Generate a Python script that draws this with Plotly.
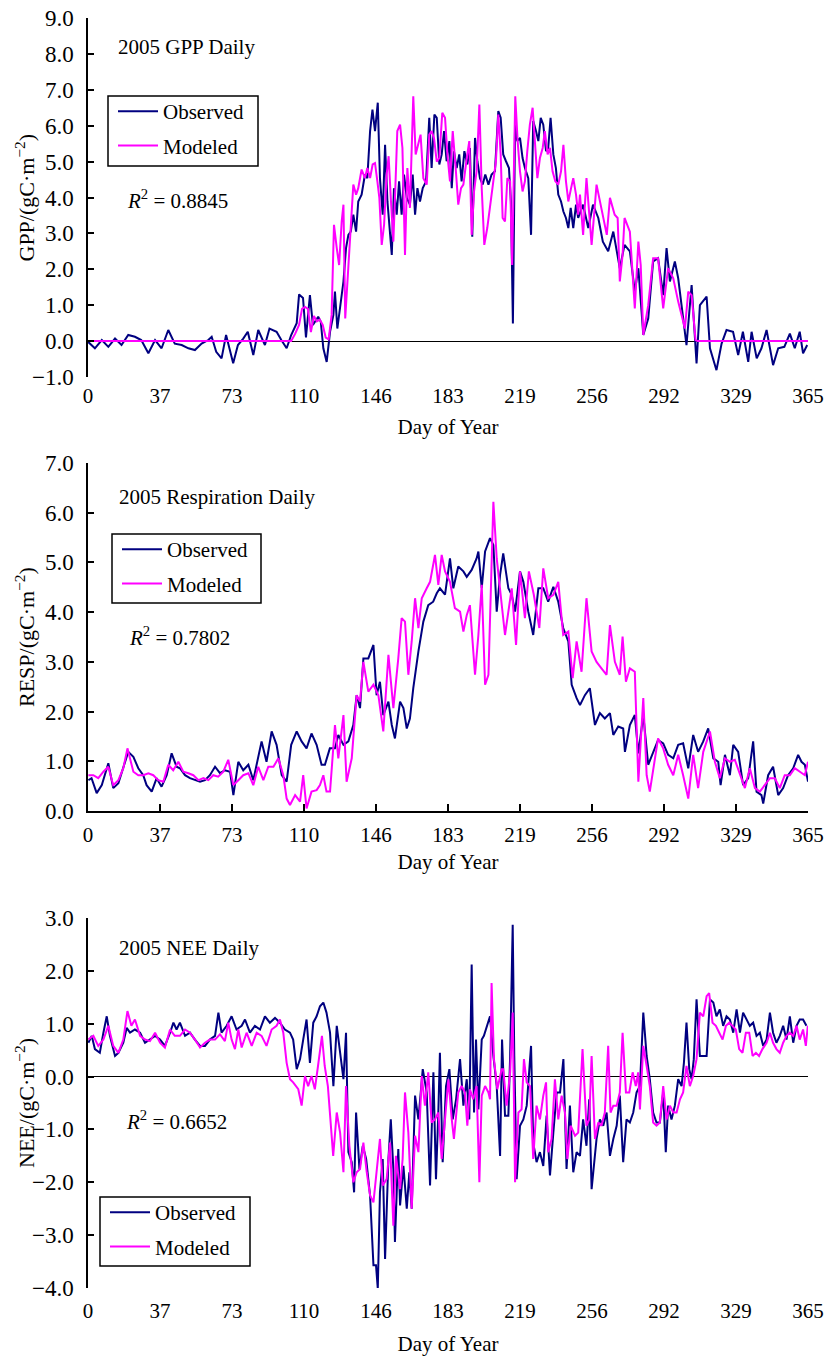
import plotly.graph_objects as go

# ---------------- data (day of year, value) ----------------
TICK_POS = [0, 36.5, 73, 109.5, 146, 182.5, 219, 255.5, 292, 328.5, 365]
TICK_TEXT = ["0", "37", "73", "110", "146", "183", "219", "256", "292", "329", "365"]

GPP_OBS = [(0,-0.02),(3.5,-0.2),(7,0.03),(10.3,-0.16),(13.7,0.07),(17,-0.11),(20.4,0.17),(23.8,0.12),(27,0.03),(30.6,-0.34),(34,0.03),(37.3,-0.2),(40.7,0.31),(44,-0.07),(47.5,-0.11),(50.9,-0.2),(54.2,-0.25),(57.6,-0.07),(61,0.03),(62.7,0.12),(65,-0.3),(67.7,-0.48),(70,0.17),(73.6,-0.62),(76,-0.11),(78.7,0.07),(81,0.26),(83.8,-0.39),(86.3,0.31),(89.7,-0.11),(92,0.35),(95.6,0.26),(98,0.03),(100.7,-0.2),(103,0.17),(105.8,0.5),(107,1.3),(109,1.2),(110.5,0.1),(112.5,1.28),(114,0.45),(116.7,0.68),(118,0.54),(119.3,-0.2),(121,-0.58),(122.7,0.26),(124.4,0.73),(125.2,1.38),(126.4,0.35),(128.1,1.01),(129.5,1.66),(130.8,2.59),(132,2.96),(133.2,3.05),(134.5,3.52),(135.9,3.05),(137,3.89),(138.7,4.08),(140.4,4.64),(141.6,4.54),(143,5.85),(144.2,6.45),(145.5,5.85),(146.9,6.64),(148,4.54),(149.4,3.52),(150.6,5.47),(151.8,3.89),(153.1,3.05),(154,2.4),(155.1,4.26),(156.5,3.52),(157.7,4.45),(159,3.52),(160.2,4.64),(161.6,3.99),(163.2,3.8),(164.6,4.64),(165.8,3.52),(167,4.26),(168.3,3.89),(169.7,4.26),(171.4,4.45),(173,6.22),(174.2,4.82),(175.6,6.31),(176.8,6.22),(178.1,4.92),(179.3,5.2),(180.5,5.85),(181.8,5.01),(183.2,5.57),(184.4,4.26),(185.5,5.29),(186.9,4.82),(188.2,5.2),(189.4,4.45),(190.8,5.29),(192.3,4.92),(193.6,5.38),(194.8,2.91),(196.2,5.66),(197.4,5.01),(198.7,4.54),(200.1,4.36),(201.4,4.64),(203,4.36),(204.6,4.64),(206.3,4.73),(208,6.41),(209.2,6.22),(210.5,5.2),(211.9,5.01),(213.4,4.82),(214.4,3.89),(215.4,0.49),(216.5,6.03),(217.6,5.57),(219,5.66),(220.3,5.1),(221.5,4.82),(223.2,4.54),(224.6,2.96),(225.7,6.13),(227.1,5.85),(228.3,5.57),(229.5,6.22),(230.8,6.03),(232.2,5.29),(233.3,5.38),(234.5,6.22),(235.9,5.2),(237.2,4.82),(238.4,4.08),(239.8,3.89),(241,3.61),(242.3,3.43),(243.5,3.15),(244.7,3.71),(246,3.15),(247.4,3.8),(248.5,3.43),(251,3.8),(253.6,3.15),(256,3.8),(258.7,3.43),(261,2.77),(263.7,2.5),(266.3,3.05),(269.6,2.03),(272,2.68),(274.7,2.5),(277.2,1.38),(279,2.03),(281.5,0.17),(284,0.63),(286.5,2.22),(289,2.31),(291.6,1.28),(293.3,2.59),(295,1.66),(297.5,2.22),(299.2,1.75),(301,0.91),(303.4,-0.11),(306,1.56),(308.5,-0.62),(310.2,1.0),(313.6,1.24),(315.3,-0.2),(318.6,-0.81),(321.2,-0.07),(323.7,0.31),(327,0.26),(329.6,-0.39),(332,0.26),(334.7,-0.58),(336.4,0.26),(339,-0.48),(341.4,-0.2),(344,0.31),(347.3,-0.67),(349.9,-0.2),(353,-0.16),(355.8,0.21),(358.3,-0.2),(360.8,0.26),(362.5,-0.34),(364.6,-0.11)]

GPP_MOD = [(0,0),(50,0),(103,0),(105,0.2),(107,0.45),(108.5,0.9),(110,0.95),(111.5,0.9),(113,0.25),(114.5,0.7),(116,0.55),(117.5,0.6),(119,0.45),(120.5,0.1),(122,0.05),(123.5,0.73),(124.7,3.24),(126.1,2.59),(127.3,2.12),(128.6,3.33),(129.5,3.8),(130.4,0.63),(131.5,1.66),(132.8,2.59),(134.5,4.36),(135.9,4.08),(137,4.26),(138.7,4.78),(140.4,4.54),(141.6,4.82),(143,4.54),(144.3,4.92),(145.5,4.96),(146.7,4.45),(147.7,3.99),(148.9,2.68),(150.1,3.24),(151.4,4.64),(152.4,5.15),(153.6,3.89),(154.8,2.77),(155.8,4.26),(156.8,5.85),(158.2,6.03),(159.4,5.38),(160.7,2.4),(161.9,4.82),(163.2,3.71),(164.9,6.82),(166.1,5.2),(167.5,5.47),(168.6,5.75),(170,4.54),(171.7,4.36),(173,5.75),(174.2,5.85),(175.4,5.66),(176.8,5.0),(178.1,5.1),(179.6,6.36),(181,6.22),(182.2,5.2),(183.5,4.45),(184.9,5.85),(186.4,4.82),(187.7,3.8),(189.1,4.26),(190.3,4.36),(192,5.1),(193.3,5.57),(194.5,2.96),(195.7,4.17),(197,4.73),(198.4,6.59),(199.6,4.26),(200.9,2.68),(202.4,3.15),(203.8,3.71),(205.5,4.45),(206.8,5.01),(208,6.31),(209.2,5.2),(210.2,3.43),(211.4,3.33),(212.6,4.54),(214,4.45),(215,2.12),(216,5.0),(216.6,6.82),(217.8,5.57),(219,4.73),(220.3,4.17),(221.5,4.45),(222.7,5.29),(224,6.03),(225.4,6.5),(226.6,5.57),(227.8,4.54),(229.1,5.1),(230.5,5.38),(231.6,5.85),(233,5.2),(234.2,5.38),(235.5,4.73),(236.9,4.45),(238.4,4.36),(239.8,4.73),(241,5.47),(242.3,4.45),(243.5,3.89),(244.9,4.26),(246,4.54),(247.4,4.08),(248.5,3.52),(249.4,4.08),(251,2.96),(252.7,4.54),(255.3,2.68),(257.8,4.36),(260,3.8),(263,2.96),(264.6,3.99),(267,3.52),(268.5,3.43),(269.6,1.66),(271,2.4),(272,3.43),(274.7,3.05),(277.2,0.91),(279,2.77),(280.2,2.12),(281.5,0.17),(284,1.0),(286.5,2.31),(289,2.31),(291.6,0.91),(294.1,2.03),(296.7,1.75),(299.2,1.1),(302.6,0.35),(304.3,1.38),(306,1.28),(308,0.03),(309,0),(340,0),(365,0)]

RESP_OBS = [(0.2,0.62),(1.8,0.66),(4.4,0.36),(7,0.52),(10.3,0.96),(12.8,0.46),(15.4,0.56),(17.9,0.86),(20.4,1.19),(23,1.09),(25.5,0.86),(28,0.72),(29.7,0.52),(32.3,0.39),(34.8,0.66),(37.3,0.49),(39.9,0.72),(42.4,1.16),(44.9,0.89),(46.6,0.86),(49.2,0.72),(51.7,0.66),(54.2,0.62),(56.8,0.59),(59.3,0.62),(61.8,0.72),(64.4,0.89),(66.9,0.76),(69.4,0.82),(72,0.79),(73.7,0.32),(76.2,0.99),(78.7,0.82),(81.3,0.93),(83.8,0.62),(86.3,1.13),(88,1.4),(90.5,0.99),(93.1,1.6),(95.6,1.33),(98.2,0.72),(100.7,0.59),(103,1.33),(105.8,1.6),(108.3,1.4),(110.8,1.26),(113.3,1.56),(115.9,1.33),(118.4,0.93),(120.1,0.93),(122.6,1.26),(125.2,1.26),(126.9,1.53),(129.5,1.33),(132,1.4),(134.5,1.73),(136.2,2.33),(137.9,2.07),(139.6,3.07),(142.1,3.07),(144.7,3.34),(146.3,2.33),(148,2.6),(149.7,1.93),(152.3,2.2),(154,1.73),(155.6,1.46),(158.2,2.2),(159.9,2.07),(161.6,1.66),(163.2,1.86),(164.9,2.47),(167.5,3.21),(170,3.81),(172.5,4.14),(175,4.21),(176.8,4.38),(178.4,4.48),(181,4.35),(183.5,5.08),(185.2,4.48),(187.7,4.92),(190.3,4.82),(192,4.71),(194.5,4.85),(197,5.08),(197.9,5.22),(199.6,4.48),(201.3,5.22),(203.8,5.49),(205.5,5.35),(207.2,4.01),(208.9,4.75),(210.5,5.18),(213.1,4.48),(214.8,4.35),(216.5,4.01),(219,4.82),(220.7,4.61),(223.2,4.01),(225.7,3.54),(228.3,4.48),(230.8,4.48),(233.3,4.21),(235.9,4.51),(238.4,4.21),(240.9,3.68),(243.5,3.41),(245.2,2.54),(247.7,2.27),(249.4,2.13),(251.9,2.33),(254.4,2.47),(257,1.73),(259.5,1.97),(262,1.86),(264.6,1.97),(266.3,1.53),(268.8,1.7),(271.3,1.66),(272.2,1.19),(274.7,1.73),(277.2,1.93),(279,1.16),(281.5,1.93),(284,0.93),(286.5,1.19),(289,1.43),(291.6,1.36),(294.1,1.13),(296.7,1.06),(299.2,1.33),(301.7,1.36),(304.3,0.86),(306.8,1.53),(309.3,1.19),(311.9,1.4),(314.4,1.66),(317,1.06),(319.5,0.99),(320.7,0.52),(322.9,1.13),(325.4,0.72),(327.1,1.33),(329.6,1.19),(332.1,0.52),(334.7,0.66),(337.2,1.4),(338.9,0.39),(341.4,0.32),(342.3,0.15),(344.8,0.72),(347.3,0.89),(349.9,0.32),(352.4,0.46),(354.9,0.72),(357.5,0.86),(360,1.13),(361.7,0.99),(363.4,0.93),(365,0.59)]

RESP_MOD = [(0.2,0.72),(2.7,0.72),(5.2,0.66),(7.8,0.79),(10.3,0.89),(12.8,0.52),(15.4,0.62),(17.9,0.86),(20,1.26),(23,0.79),(25.5,0.72),(28,0.72),(30.6,0.76),(33.1,0.72),(35.6,0.62),(38.2,0.59),(40.7,0.93),(43.2,0.82),(45.8,0.99),(48.3,0.79),(50.9,0.76),(53.4,0.72),(56,0.62),(58.5,0.66),(61,0.62),(63.5,0.72),(66,0.69),(68.6,0.79),(71.1,1.03),(73.7,0.52),(76.2,0.62),(78.7,0.72),(81.3,0.76),(83.8,0.52),(86.3,0.89),(88.9,0.62),(91.4,0.89),(94,0.89),(96.5,1.06),(99,0.72),(100.7,0.25),(102.4,0.12),(105,0.32),(107.5,0.19),(109.1,0.72),(110.8,0.05),(113.3,0.39),(115.9,0.42),(117.6,0.52),(119.3,0.72),(120.9,0.39),(122.7,0.39),(125.2,1.73),(126.9,1.06),(129.5,1.93),(131.1,0.59),(133.7,1.06),(136.2,2.33),(137.9,2.2),(139.6,3.0),(142.1,2.4),(144.7,2.54),(147.2,2.33),(149.7,1.6),(152.3,3.14),(154.8,2.07),(157.3,3.07),(159,3.88),(160.7,3.81),(162.4,2.74),(164.1,3.41),(165.8,4.28),(167.5,3.68),(169.2,4.28),(171.7,4.48),(173.4,4.61),(175.9,5.15),(177.6,4.55),(179.3,5.15),(181,4.82),(183.5,4.61),(186,4.08),(188.6,4.01),(190.3,3.61),(192,3.94),(193.6,4.14),(196.2,2.74),(197.9,3.54),(199.6,4.55),(201.3,2.54),(203,2.74),(205.5,6.22),(207.2,5.08),(208.9,4.41),(211.4,3.54),(213.1,4.01),(214.8,4.48),(217,3.34),(219,4.82),(221.5,3.88),(223.5,4.82),(226,4.35),(228.8,3.68),(230.8,4.88),(233.3,4.28),(235.9,4.35),(238.4,4.61),(240.9,3.54),(243.5,3.61),(245.7,2.67),(247.7,3.41),(250.2,2.8),(252.7,4.28),(255.3,3.21),(257.8,3.0),(260.3,2.87),(262.9,2.74),(264.6,3.74),(267.1,3.0),(269.6,2.74),(271,3.51),(272.7,2.6),(274.7,2.87),(277.2,2.8),(279,0.59),(281.5,2.27),(283.2,0.72),(284.8,0.39),(286.5,0.86),(289,1.46),(291.6,1.26),(294.1,0.93),(296.7,0.72),(299.2,1.13),(301.7,0.72),(304.3,0.25),(306.8,1.13),(309.3,0.46),(311.9,1.19),(315.3,1.6),(317.8,0.99),(320.3,0.66),(322.9,1.06),(325.4,0.99),(327.9,1.03),(330.5,0.72),(333,0.46),(335.5,0.86),(338.1,0.46),(340.6,0.39),(343.1,0.52),(345.7,0.66),(348.2,0.66),(350.7,0.46),(353.2,0.72),(355.8,0.72),(358.3,0.86),(360.8,0.79),(363.4,0.72),(365,0.99)]

NEE_OBS = [(0.2,0.64),(1.9,0.77),(3.5,0.52),(6,0.45),(7.8,0.83),(9.5,1.14),(11.1,0.77),(13.7,0.39),(15.4,0.45),(17.9,0.64),(19.6,0.92),(21.3,0.83),(23.8,0.89),(26.4,0.83),(28.9,0.64),(31.4,0.7),(34,0.77),(36.5,0.7),(39,0.58),(41.6,0.83),(43.3,1.02),(44.9,0.89),(46.6,1.02),(49.2,0.77),(51.7,0.83),(54.2,0.7),(56.8,0.58),(59.3,0.58),(61.8,0.7),(64.4,0.77),(66.1,1.21),(67.7,0.83),(70.3,0.96),(72.8,1.14),(75.3,0.89),(77.9,0.96),(79.6,1.08),(82.1,0.83),(84.6,0.96),(87.2,0.89),(89.7,1.14),(92.2,1.02),(94.8,1.11),(97.3,1.02),(99.8,0.89),(102.4,0.83),(104,0.7),(105.8,0.14),(107.5,0.33),(109.1,0.7),(110.8,1.08),(112.5,0.26),(114.2,1.02),(115.9,1.14),(117.6,1.33),(119.3,1.4),(120.9,1.21),(122.7,0.83),(124.4,-0.18),(126.1,0.96),(127.8,0.45),(129.5,-0.05),(130.8,0.83),(132,-1.43),(133.7,-1.62),(134.9,-2.19),(135.9,-0.68),(137.6,-1.75),(139.3,-1.31),(141,-1.56),(143,-2.25),(144.7,-3.57),(146,-3.57),(146.9,-4.01),(148,-2.19),(149.4,-1.56),(150.6,-3.45),(152.3,-1.56),(153.5,-0.81),(154.8,-1.75),(155.6,-3.13),(157.3,-1.37),(158.2,-2.44),(159.9,-1.69),(161.6,-2.5),(162.9,-1.81),(164.1,-2.5),(165.8,-0.36),(167.5,-0.81),(169.7,0.14),(171.7,-0.3),(173.4,-2.06),(175.1,0.08),(176.4,-1.94),(177.6,-0.68),(178.4,0.45),(179.8,-1.62),(181.5,-0.18),(183.2,0.14),(184.9,-0.81),(186.6,-0.43),(188.6,0.33),(190.3,-0.55),(192,-0.05),(193.3,-0.81),(194.5,2.12),(195.7,-0.68),(196.7,0.7),(197.9,-0.62),(199.6,0.7),(200.7,0.77),(202.1,0.96),(203.8,1.14),(205.5,0.39),(207.2,-0.18),(208.9,-1.5),(209.9,0.7),(211.4,-0.74),(213.1,-0.74),(214,0.39),(215.3,2.87),(216.1,0.39),(217.3,-1.94),(219,-0.93),(220.7,-0.81),(222.4,-0.55),(224.6,0.58),(225.7,-1.25),(227.4,-1.62),(229.1,-1.43),(230.8,-1.69),(232.5,-0.74),(234.2,-1.87),(235.9,-1.06),(237.6,-0.3),(239.3,-0.3),(241,0.33),(242.6,-1.75),(244.3,-0.55),(246,-1.81),(247.7,-1.43),(249.4,-1.5),(251,-0.81),(252.7,-1.31),(254.1,-0.43),(255.3,-2.13),(256.5,-1.69),(257.8,-1.18),(259.5,-0.81),(261.2,-0.93),(262.9,-0.68),(264.6,-1.5),(266.3,-1.18),(268,-0.93),(269.6,-0.36),(271.3,-1.62),(273,-0.81),(274.7,-0.87),(276.4,-0.68),(278.1,-0.3),(279.8,-0.18),(281.5,1.21),(283.2,0.39),(284.8,-0.05),(286.5,-0.68),(288.2,-0.87),(289.9,-0.87),(291.6,-0.3),(292.9,-1.43),(294.1,-0.55),(295.8,-0.81),(297.5,-0.55),(299.2,-0.05),(300.9,-0.18),(302.1,0.26),(303.4,1.02),(304.8,0.14),(306,-0.05),(307.1,0.33),(308.5,1.46),(310.2,0.39),(311.9,0.39),(313.6,0.39),(315.3,1.46),(317,1.4),(318.6,1.14),(320.3,1.27),(322,0.96),(323.7,1.14),(325.4,1.08),(327.1,0.83),(328.8,1.27),(330.5,0.83),(332.1,1.21),(333.8,1.08),(335.5,0.96),(337.2,1.02),(338.9,0.77),(340.6,0.83),(342.3,0.58),(344,0.7),(345.7,1.21),(347.3,0.83),(349,0.64),(350.7,0.77),(352.4,0.96),(354.1,0.7),(355.8,1.14),(357.5,0.64),(359.2,0.96),(360.8,1.08),(362.5,1.08),(364.2,0.96)]

NEE_MOD = [(0.2,0.7),(2.7,0.77),(5.2,0.58),(7.8,0.7),(10.3,0.96),(12.8,0.58),(15.4,0.45),(17.9,0.7),(20,1.24),(22,0.96),(23.8,1.08),(26.4,0.77),(28.9,0.7),(31.4,0.67),(34,0.83),(36.5,0.64),(39,0.55),(41.6,0.89),(44,0.77),(46.6,0.77),(49.2,0.89),(51.7,0.83),(54.2,0.7),(56.8,0.55),(59.3,0.64),(61.8,0.7),(64.4,0.7),(66.9,0.8),(69.4,0.67),(71.1,1.02),(72.8,0.7),(74.5,0.52),(76.2,0.89),(77.9,0.55),(80.4,0.83),(83,0.58),(85.5,0.83),(88,0.77),(90.5,0.58),(93.1,0.89),(95.6,0.96),(97.3,1.08),(99,0.83),(100.7,0.26),(102.4,-0.05),(104,-0.11),(106.6,-0.24),(108.3,-0.55),(110,0.01),(111.6,-0.18),(113.3,0.01),(115,-0.24),(116.6,0.2),(118.6,0.77),(120,0.2),(121.6,-0.18),(124.3,-1.5),(126.1,-0.68),(127.8,-1.06),(129.5,-1.81),(130.8,-0.18),(132.5,-1.31),(134.5,-2.0),(136.2,-1.81),(137.9,-1.75),(139.6,-1.25),(141.3,-1.81),(143,-2.25),(144.7,-2.38),(146.3,-1.81),(148,-1.18),(149.4,-2.06),(151.4,-1.94),(153.1,-1.25),(154.8,-2.82),(156.1,-1.5),(158.2,-2.13),(159.5,-1.56),(160.7,-0.3),(162.4,-1.06),(164.1,-2.5),(165.8,-1.12),(167.5,-1.43),(169.2,0.01),(170.8,-0.55),(172.5,0.08),(174.2,-0.87),(175.9,-0.81),(177.6,-0.68),(179.3,-1.56),(181,-0.81),(182.7,-0.05),(184.4,-0.81),(185.5,-1.18),(187.7,-0.3),(189.4,-0.18),(191.1,-0.3),(192.3,-0.93),(193.6,-0.24),(195.3,-0.43),(197,-0.18),(198.4,-2.0),(199.6,-0.36),(201.3,-0.18),(203,-0.3),(203.8,-0.43),(204.6,1.77),(205.8,0.33),(207.5,-0.24),(209.7,0.14),(210.5,0.14),(212.2,-0.55),(214,0.08),(215.3,1.21),(216.5,-2.0),(218.2,-0.68),(219.8,-0.62),(221,0.33),(222.4,-0.11),(224.1,-0.18),(225.7,-1.56),(227.4,-0.55),(229.1,-0.81),(230.8,-0.36),(232.2,-0.11),(233.3,-1.43),(235,-1.18),(236.7,-0.05),(238.4,-0.81),(240.1,-0.36),(241.8,-0.68),(243,-1.56),(244.7,-0.93),(246.9,-1.12),(248.5,-1.06),(250.7,0.52),(252.7,-0.93),(254.1,-0.81),(255.3,0.39),(257,-1.18),(258.7,-0.87),(260.3,-0.93),(262,-0.68),(263.7,0.58),(264.9,-0.68),(266.3,-0.55),(268,-0.55),(269.6,-0.3),(271,0.83),(272.7,-0.3),(274.4,-0.3),(276.1,0.08),(277.7,-0.18),(278.9,0.08),(279.8,-0.62),(281.5,0.58),(283.2,0.2),(284.8,-0.18),(286.5,-0.87),(288.2,-0.93),(289.9,-0.87),(291.6,-0.18),(293.3,-0.81),(295,-0.55),(296.7,-0.68),(298.4,-0.68),(300.1,-0.43),(301.7,-0.3),(303.4,0.2),(305.1,-0.18),(306.8,0.01),(308.5,0.33),(310.2,1.21),(311.9,1.14),(313.6,1.52),(314.9,1.58),(316.6,1.02),(318.3,0.96),(320,0.83),(321.7,0.7),(323.4,0.96),(325.1,1.02),(326.7,0.96),(328.4,0.89),(330.1,0.52),(331.8,0.45),(333.5,0.83),(335.2,0.83),(336.9,0.39),(338.6,0.45),(340.2,0.39),(341.9,0.52),(344,0.64),(345.7,0.83),(347.3,0.64),(349,0.52),(350.7,0.45),(352.4,0.64),(354.1,0.77),(355.8,0.83),(357.5,0.77),(359.2,0.96),(360.8,0.7),(362.5,0.89),(363.9,0.58),(364.9,0.96)]

PANELS = [
    dict(obs=GPP_OBS, mod=GPP_MOD, yrange=[-1, 9], ytitle="GPP/(gC·m<sup>−2</sup>)",
         label="2005 GPP Daily", r2="0.8845"),
    dict(obs=RESP_OBS, mod=RESP_MOD, yrange=[0, 7], ytitle="RESP/(gC·m<sup>−2</sup>)",
         label="2005 Respiration Daily", r2="0.7802"),
    dict(obs=NEE_OBS, mod=NEE_MOD, yrange=[-4, 3], ytitle="NEE/(gC·m<sup>−2</sup>)",
         label="2005 NEE Daily", r2="0.6652"),
]

# ---------------- layout geometry (pixels) ----------------
W, H = 826, 1356
PLOT_L, PLOT_R = 88, 808
PANEL_PX = [(18, 377), (463, 811), (918, 1288)]                    # top, bottom of plot areas
LEGEND_BOX = [(108, 96, 258, 166), (112, 534, 261, 603), (100, 1197, 250, 1266)]
LABEL_PX = [(116, 47), (117, 497), (117, 948)]
R2_PX = [(125, 200), (127, 637), (124, 1120)]
XLAB_STANDOFF = [4, 4, 8]
XTITLE_STANDOFF = [12, 8, 19]

FONT = "Liberation Serif, Times New Roman, serif"
FS = 21
NAVY = "#000080"
MAGENTA = "#FF00FF"


def xp(px):
    return px / W


def yp(px):
    return 1 - px / H


fig = go.Figure()
layout = dict(
    width=W, height=H,
    margin=dict(l=0, r=0, t=0, b=0, autoexpand=False),
    paper_bgcolor="white", plot_bgcolor="white",
    font=dict(family=FONT, size=FS, color="black"),
    showlegend=True,
    annotations=[], shapes=[],
)

for i, p in enumerate(PANELS):
    n = "" if i == 0 else str(i + 1)
    xa, ya = "x" + n, "y" + n
    leg = "legend" if i == 0 else f"legend{i + 1}"
    top, bot = PANEL_PX[i]
    ydom = [yp(bot), yp(top)]

    od, ov = zip(*p["obs"])
    md, mv = zip(*p["mod"])
    fig.add_trace(go.Scatter(x=od, y=ov, mode="lines", name="Observed",
                             line=dict(color=NAVY, width=2), xaxis=xa, yaxis=ya,
                             legend=leg, legendgroup=f"o{i}"))
    fig.add_trace(go.Scatter(x=md, y=mv, mode="lines", name="Modeled",
                             line=dict(color=MAGENTA, width=2), xaxis=xa, yaxis=ya,
                             legend=leg, legendgroup=f"m{i}"))

    has_neg = p["yrange"][0] < 0
    layout["xaxis" + n] = dict(
        domain=[xp(PLOT_L), xp(PLOT_R)], anchor=ya, range=[0, 365], automargin=False,
        tickmode="array", tickvals=TICK_POS, ticktext=TICK_TEXT,
        showgrid=False, zeroline=False,
        showline=not has_neg, linecolor="black", linewidth=1.5,
        ticks="" if has_neg else "inside", ticklen=7, tickcolor="black", tickwidth=1.5,
        ticklabelstandoff=XLAB_STANDOFF[i],
        title=dict(text="Day of Year", standoff=XTITLE_STANDOFF[i], font=dict(size=FS)),
        tickfont=dict(size=FS),
    )
    layout["yaxis" + n] = dict(
        domain=ydom, anchor=xa, range=p["yrange"], dtick=1, tick0=0, automargin=False,
        tickformat=".1f", showgrid=False,
        zeroline=has_neg, zerolinecolor="black", zerolinewidth=1.2,
        showline=True, linecolor="black", linewidth=1.5,
        ticks="inside", ticklen=6, tickcolor="black", tickwidth=1.5,
        ticklabelstandoff=8, tickfont=dict(size=23),
    )
    if has_neg:
        # tick marks sitting on the zero line (overlay axis, no labels)
        k = 4 if i == 0 else 5
        y0, y1 = p["yrange"]
        pos = ydom[0] + (0 - y0) / (y1 - y0) * (ydom[1] - ydom[0])
        layout[f"xaxis{k}"] = dict(
            overlaying=xa, anchor="free", position=pos, side="bottom", range=[0, 365],
            tickmode="array", tickvals=TICK_POS, showticklabels=False, automargin=False,
            ticks="inside", ticklen=7, tickcolor="black", tickwidth=1.5,
            showline=False, showgrid=False, zeroline=False,
        )

    bx0, by0, bx1, by1 = LEGEND_BOX[i]
    layout[leg] = dict(
        x=xp(bx0 + 5), y=yp(by0 - 5), xanchor="left", yanchor="top",
        bgcolor="rgba(0,0,0,0)", borderwidth=0,
        font=dict(family=FONT, size=FS), tracegroupgap=4, itemwidth=40,
    )
    layout["shapes"].append(dict(
        type="rect", xref="paper", yref="paper",
        x0=xp(bx0), x1=xp(bx1), y0=yp(by1), y1=yp(by0),
        line=dict(color="black", width=1.5), fillcolor="white", layer="above",
    ))

    tx, ty = LABEL_PX[i]
    layout["annotations"].append(dict(
        text=p["label"], x=xp(tx), y=yp(ty), xref="paper", yref="paper",
        xanchor="left", yanchor="middle", showarrow=False, font=dict(size=FS)))
    rx, ry = R2_PX[i]
    layout["annotations"].append(dict(
        text=f"<i>R</i><sup>2</sup> = {p['r2']}", x=xp(rx), y=yp(ry),
        xref="paper", yref="paper", xanchor="left", yanchor="middle",
        showarrow=False, font=dict(size=FS)))
    layout["annotations"].append(dict(
        text=p["ytitle"], x=xp(25), y=yp((top + bot) / 2), xref="paper", yref="paper",
        xanchor="center", yanchor="middle", textangle=-90, showarrow=False,
        font=dict(size=22)))

fig.update_layout(**layout)
fig.write_html("out.html")
